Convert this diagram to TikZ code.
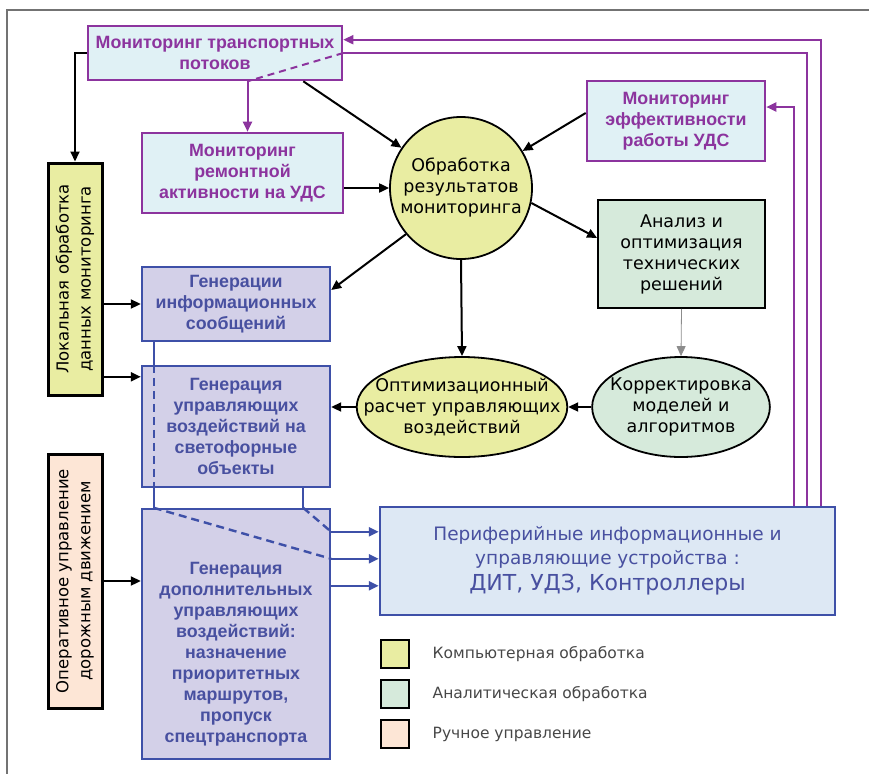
\documentclass[tikz,border=0pt]{standalone}
\usepackage{fontspec}
\setmainfont{Liberation Sans}
\newfontfamily\dejavu{DejaVu Sans}
\usetikzlibrary{positioning, arrows.meta, calc, shapes.geometric}

\definecolor{mpurple}{RGB}{140,52,158}
\definecolor{mcyan}{RGB}{224,241,245}
\definecolor{mlav}{RGB}{211,208,232}
\definecolor{mblue}{RGB}{62,80,168}
\definecolor{mbtext}{RGB}{72,80,160}
\definecolor{myellow}{RGB}{233,237,162}
\definecolor{mgreen}{RGB}{214,234,219}
\definecolor{mpeach}{RGB}{253,230,214}
\definecolor{mperif}{RGB}{221,232,244}

\begin{document}
\begin{tikzpicture}[
  x=1pt, y=-1pt,
  font=\dejavu\fontsize{17.5}{21}\selectfont,
  mon/.style={draw=mpurple, line width=2.6pt, fill=mcyan, text=mpurple, align=center, inner sep=0pt, font=\normalfont\fontsize{17.8}{21}\selectfont\bfseries},
  gen/.style={draw=mblue, line width=2.4pt, fill=mlav, text=mbtext, align=center, inner sep=0pt, font=\normalfont\fontsize{17.8}{21}\selectfont\bfseries},
  proc/.style={draw, line width=1.8pt, fill=myellow, align=center, inner sep=0pt},
  anal/.style={draw, line width=1.8pt, fill=mgreen, align=center, inner sep=0pt},
  side/.style={draw, line width=3pt, rotate=90, align=center, inner sep=0pt, font=\dejavu\fontsize{16.5}{22}\selectfont},
  legbox/.style={draw, line width=2pt, minimum size=28pt, inner sep=0pt},
  legtext/.style={inner sep=0pt, text=black!72, font=\dejavu\fontsize{15.5}{18}\selectfont},
  ar/.style={-{Triangle[length=10pt, width=9pt]}, line width=2pt},
  arp/.style={-{Triangle[length=10pt, width=9pt]}, line width=2pt, mpurple},
  pl/.style={line width=2pt, mpurple},
  bl/.style={line width=2.4pt, mblue},
  arbl/.style={-{Triangle[length=10pt, width=9pt]}, line width=2.4pt, mblue}
]
\useasboundingbox (0,0) rectangle (869,774);
% page frame (top and left only)
\draw[black!55, line width=1.2pt] (869,10) -- (7,10) -- (7,774);

% Monitoring boxes
\node[mon, minimum width=254pt, minimum height=54pt] (mtp) at (215,53) {Мониторинг транспортных\\потоков};
\node[mon, minimum width=201pt, minimum height=80pt] (mra) at (242.5,173) {Мониторинг\\ремонтной\\активности на УДС};
\node[mon, minimum width=178pt, minimum height=80pt] (mef) at (676,121) {Мониторинг\\эффективности\\работы УДС};

% Processing (computer / analytic)
\node[proc, circle, minimum size=142pt] (obr) at (461,188) {Обработка\\результатов\\мониторинга};
\node[anal, minimum width=167pt, minimum height=108pt] (anl) at (681.5,254) {Анализ и\\оптимизация\\технических\\решений};
\node[anal, ellipse, inner xsep=-8pt, minimum width=177pt, minimum height=100pt] (kor) at (681,407) {Корректировка\\моделей и\\алгоритмов};
\node[proc, ellipse, inner xsep=-24pt, minimum width=210pt, minimum height=100pt] (opt) at (462,407) {Оптимизационный\\расчет управляющих\\воздействий};

% Generation boxes (left column)
\node[gen, minimum width=188pt, minimum height=74pt] (gis) at (236,304) {Генерации\\информационных\\сообщений};
\node[gen, minimum width=188pt, minimum height=121pt] (gsv) at (236,426.5) {Генерация\\управляющих\\воздействий на\\светофорные\\объекты};
\node[gen, minimum width=188pt, minimum height=250pt] (gdop) at (236,634) {\rule{0pt}{52pt}Генерация\\дополнительных\\управляющих\\воздействий:\\назначение\\приоритетных\\маршрутов,\\пропуск\\спецтранспорта};

% Side boxes (rotated: .south is the right edge, .east the top)
\node[side, fill=myellow, minimum width=232pt, minimum height=54pt] (lok) at (75,279) {Локальная обработка\\данных мониторинга};
\node[side, fill=mpeach, minimum width=254pt, minimum height=54pt] (oper) at (75,581) {Оперативное управление\\дорожным движением};

% Peripheral devices
\node[draw=mblue, line width=2.4pt, fill=mperif, text=mbtext, align=center, inner sep=0pt, minimum width=455pt, minimum height=108pt, font=\dejavu\fontsize{18.5}{24}\selectfont] (per) at (607.5,561) {Периферийные информационные и\\управляющие устройства :\\[2pt]{\fontsize{22}{26}\selectfont ДИТ, УДЗ, Контроллеры}};

% Legend
\node[legbox, fill=myellow] (lg1) at (394.5,654) {};
\node[legbox, fill=mgreen, below=10pt of lg1] (lg2) {};
\node[legbox, fill=mpeach, below=10pt of lg2] (lg3) {};
\node[legtext, right=23pt of lg1] (lt1) {Компьютерная обработка};
\node[legtext, right=23pt of lg2] (lt2) {Аналитическая обработка};
\node[legtext, right=23pt of lg3] (lt3) {Ручное управление};

% Black arrows
\draw[ar] (mtp.west) -| (lok.east);
\draw[ar] ($(mtp.south east)+(-40,0)$) -- (obr);
\draw[ar] (mra.east |- obr) -- (obr.west);
\draw[ar] ($(mef.west)+(0,-8)$) -- (obr);
\draw[ar] (obr.-12) -- ($(anl.west)+(0,-16)$);
\draw[ar] (obr.south) -- (opt.north);
\draw[ar, line width=0.8pt, black!45] (anl.south) -- (kor.north);
\draw[ar] (kor.west) -- (opt.east);
\draw[ar] (opt.west) -- (opt.west -| gsv.east);
\draw[ar] (obr.220) -- ($(gis.east)+(0,-14)$);
\coordinate (gsvin) at ($(gsv.north west)+(0,12)$);
\draw[ar] (lok.south |- gis.west) -- (gis.west);
\draw[ar] (lok.south |- gsvin) -- (gsvin);
\draw[ar] (oper.south) -- (oper.south -| gdop.west);

% Blue links to peripheral devices
\coordinate (bA) at ($(gis.south west)+(13,0)$);
\coordinate (bB) at ($(gsv.south east)+(-28,0)$);
\coordinate (e1) at ($(gdop.north east)+(0,24)$);
\coordinate (e2) at ($(gdop.north east)+(0,51)$);
\coordinate (e3) at ($(gdop.north east)+(0,78)$);
\draw[bl] (bA) -- (bA |- gsv.north);
\draw[bl, dash pattern=on 8pt off 5pt] (bA |- gsv.north) -- (bA |- gsv.south);
\draw[bl] (bA |- gsv.south) -- (bA |- gdop.north);
\draw[bl, dash pattern=on 8pt off 5pt] (bA |- gdop.north) -- (e2);
\draw[bl] (bB) -- (bB |- gdop.north);
\draw[bl, dash pattern=on 8pt off 5pt] (bB |- gdop.north) -- (e1);
\draw[arbl] (e1) -- (e1 -| per.west);
\draw[arbl] (e2) -- (e2 -| per.west);
\draw[arbl] (e3) -- (e3 -| per.west);

% Purple feedback from peripheral devices
\coordinate (r1) at ($(per.north west)+(415,0)$);
\coordinate (r2) at ($(per.north west)+(428,0)$);
\coordinate (r3) at ($(per.north west)+(442,0)$);
\coordinate (mdrop) at ($(mra.north)+(5,0)$);
\draw[arp] (r1) |- ($(mef.east)+(0,-14)$);
\draw[pl] (r2) |- (mtp.east);
\draw[arp] (r3) |- ($(mtp.north east)+(0,15)$);
\draw[pl, dash pattern=on 7pt off 5pt] (mtp.east) -- (mdrop |- mtp.south);
\draw[arp] (mdrop |- mtp.south) -- (mdrop);
\end{tikzpicture}
\end{document}
